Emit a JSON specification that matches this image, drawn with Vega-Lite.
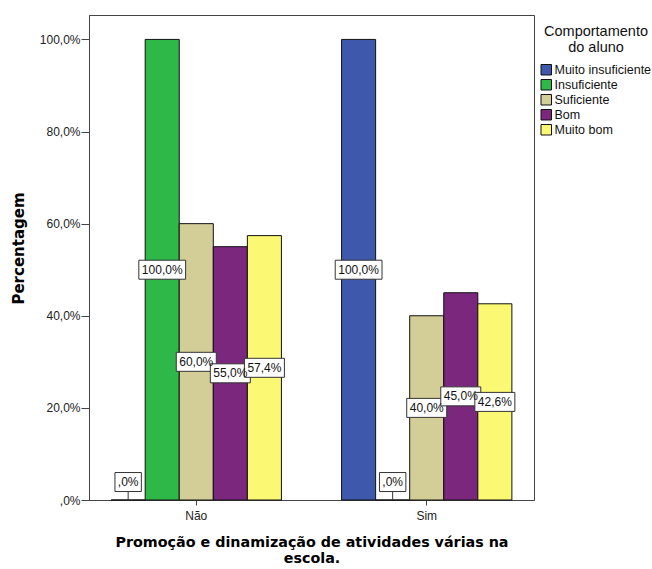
{
  "$schema": "https://vega.github.io/schema/vega-lite/v6.json",
  "width": 445,
  "height": 485,
  "autosize": "none",
  "padding": {"left": 89, "top": 15, "right": 118, "bottom": 69},
  "background": "white",
  "config": {
    "font": "Liberation Sans",
    "view": {"stroke": "#444", "strokeWidth": 1},
    "axis": {"labelFont": "Liberation Sans", "labelFontSize": 12, "labelColor": "#222", "domainColor": "#444", "tickColor": "#444", "titleFont": "DejaVu Sans", "titleFontWeight": "bold", "titleColor": "#000", "grid": false},
    "legend": {"labelFont": "Liberation Sans", "titleFont": "Liberation Sans", "labelFontSize": 12.5, "labelLimit": 300}
  },
  "data": {
    "values": [
      {"grupo": "Não", "comportamento": "Muito insuficiente", "pct": 0},
      {"grupo": "Não", "comportamento": "Insuficiente", "pct": 100},
      {"grupo": "Não", "comportamento": "Suficiente", "pct": 60},
      {"grupo": "Não", "comportamento": "Bom", "pct": 55},
      {"grupo": "Não", "comportamento": "Muito bom", "pct": 57.4},
      {"grupo": "Sim", "comportamento": "Muito insuficiente", "pct": 100},
      {"grupo": "Sim", "comportamento": "Insuficiente", "pct": 0},
      {"grupo": "Sim", "comportamento": "Suficiente", "pct": 40},
      {"grupo": "Sim", "comportamento": "Bom", "pct": 45},
      {"grupo": "Sim", "comportamento": "Muito bom", "pct": 42.6}
    ]
  },
  "transform": [
    {"calculate": "datum.pct == 0 ? ',0%' : replace(format(datum.pct, '.1f'), '.', ',') + '%'", "as": "label"},
    {"calculate": "datum.pct == 0 ? 3.9 : datum.pct / 2", "as": "ly"},
    {"calculate": "datum.ly - 2.1", "as": "lyb"},
    {"calculate": "length(datum.label) * 6.8 + 6", "as": "bw"},
    {"calculate": "datum.bw * datum.bw", "as": "boxsize"},
    {"calculate": "'M-1,-' + format(19 / datum.bw, '.4f') + 'H1V' + format(19 / datum.bw, '.4f') + 'H-1Z'", "as": "boxpath"}
  ],
  "encoding": {
    "x": {
      "field": "grupo", "type": "nominal", "sort": ["Não", "Sim"],
      "scale": {"paddingInner": 0.261, "paddingOuter": 0.096},
      "axis": {"labelAngle": 0, "title": ["Promoção e dinamização de atividades várias na", "escola."], "titleFontSize": 14.3, "titlePadding": 14, "labelPadding": 5, "tickSize": 5}
    },
    "xOffset": {
      "field": "comportamento", "type": "nominal",
      "sort": ["Muito insuficiente", "Insuficiente", "Suficiente", "Bom", "Muito bom"],
      "scale": {"paddingInner": 0, "paddingOuter": 0}
    }
  },
  "layer": [
    {
      "mark": {"type": "bar", "stroke": "#111", "strokeWidth": 1},
      "encoding": {
        "y": {
          "field": "pct", "type": "quantitative",
          "scale": {"domain": [0, 105.3], "nice": false},
          "axis": {"values": [0, 20, 40, 60, 80, 100], "labelExpr": "datum.value == 0 ? ',0%' : replace(format(datum.value, '.1f'), '.', ',') + '%'", "title": "Percentagem", "titleFontSize": 15, "titlePadding": 13, "titleY": 233, "tickSize": 8, "labelPadding": 1}
        },
        "color": {
          "field": "comportamento", "type": "nominal",
          "sort": ["Muito insuficiente", "Insuficiente", "Suficiente", "Bom", "Muito bom"],
          "scale": {"domain": ["Muito insuficiente", "Insuficiente", "Suficiente", "Bom", "Muito bom"], "range": ["#3E58AC", "#2EB848", "#D3CE97", "#7B277D", "#FBF873"]},
          "legend": {"title": ["Comportamento", "do aluno"], "orient": "none", "legendX": 451, "legendY": 10, "titleFontSize": 14.5, "titleLineHeight": 16, "titleFontWeight": "normal", "titleColor": "#111", "titleAnchor": "middle", "titleAlign": "center", "titlePadding": 8, "labelFontSize": 12.5, "labelColor": "#111", "symbolType": "square", "symbolSize": 110, "symbolStrokeColor": "#111", "symbolStrokeWidth": 1, "rowPadding": 0, "labelOffset": 2, "padding": 0}
        }
      }
    },
    {
      "transform": [{"filter": "datum.pct == 0"}],
      "mark": {"type": "rule", "color": "#333", "strokeWidth": 1},
      "encoding": {
        "y": {"field": "pct", "type": "quantitative"},
        "y2": {"field": "lyb"}
      }
    },
    {
      "mark": {"type": "point", "filled": true, "fill": "white", "stroke": "#333", "strokeWidth": 1, "opacity": 1},
      "encoding": {
        "y": {"field": "ly", "type": "quantitative"},
        "size": {"field": "boxsize", "type": "quantitative", "scale": null},
        "shape": {"field": "boxpath", "type": "nominal", "scale": null}
      }
    },
    {
      "mark": {"type": "text", "font": "Liberation Sans", "fontSize": 12, "color": "#111", "baseline": "middle", "align": "center"},
      "encoding": {
        "y": {"field": "ly", "type": "quantitative"},
        "text": {"field": "label", "type": "nominal"}
      }
    }
  ]
}
